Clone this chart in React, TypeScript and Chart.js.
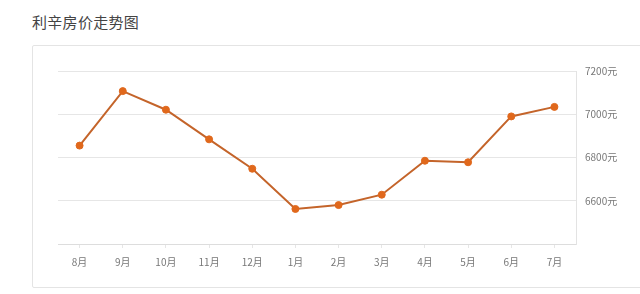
import React, { useEffect, useRef } from "react";
import { Chart, registerables } from "chart.js";

Chart.register(...registerables);

const title = "利辛房价走势图";
const months = ["8月", "9月", "10月", "11月", "12月", "1月", "2月", "3月", "4月", "5月", "6月", "7月"];
const prices = [6855, 7107, 7021, 6884, 6748, 6562, 6580, 6628, 6785, 6778, 6990, 7034];
const yMin = 6400;
const yMax = 7200;
const yStep = 200;
const unit = "元";

const FONT = '"Noto Sans CJK SC", "Noto Sans", sans-serif';

export default function App() {
  const ref = useRef<HTMLCanvasElement | null>(null);

  useEffect(() => {
    if (!ref.current) return;
    const chart = new Chart(ref.current, {
      type: "line",
      data: {
        labels: months,
        datasets: [
          {
            data: prices,
            borderColor: "#c4642a",
            borderWidth: 2,
            pointRadius: 3.5,
            pointBackgroundColor: "#e0681c",
            pointBorderColor: "#e0681c",
            pointBorderWidth: 1,
            tension: 0,
          },
        ],
      },
      options: {
        responsive: false,
        animation: false,
        layout: { padding: { left: 58, top: 71, right: 0, bottom: 0 } },
        plugins: { legend: { display: false }, tooltip: { enabled: false } },
        scales: {
          x: {
            offset: true,
            grid: {
              drawOnChartArea: false,
              drawTicks: true,
              tickLength: 4,
              color: "#e6e6e6",
            },
            border: { display: true, color: "#dddddd", width: 1 },
            ticks: {
              color: "#777",
              font: { family: FONT, size: 10 },
              padding: 8,
              maxRotation: 0,
              autoSkip: false,
            },
            afterFit: (s: any) => {
              s.height = 50;
            },
          },
          y: {
            position: "right",
            min: yMin,
            max: yMax,
            grid: { color: "#e6e6e6", drawTicks: false },
            border: { display: true, color: "#e3e3e3", width: 1 },
            ticks: {
              stepSize: yStep,
              color: "#777",
              font: { family: FONT, size: 10 },
              padding: 9,
              callback: (v: any) => (Number(v) === yMin ? "" : v + unit),
            },
            afterFit: (s: any) => {
              s.width = 64;
            },
          },
        },
      },
    });
    return () => chart.destroy();
  }, []);

  return (
    <div style={{ position: "fixed", left: 0, top: 0, width: 640, height: 294, background: "#fff", overflow: "hidden" }}>
      <div
        style={{
          position: "absolute",
          left: 32,
          top: 11,
          fontFamily: FONT,
          fontSize: 15,
          lineHeight: "22px",
          color: "#444",
          letterSpacing: 0.3,
        }}
      >
        {title}
      </div>
      <div
        style={{
          position: "absolute",
          left: 32,
          top: 45,
          width: 640,
          height: 241,
          border: "1px solid #e4e4e4",
          borderRadius: 2,
        }}
      />
      <canvas ref={ref} width={640} height={294} style={{ position: "absolute", left: 0, top: 0 }} />
    </div>
  );
}
